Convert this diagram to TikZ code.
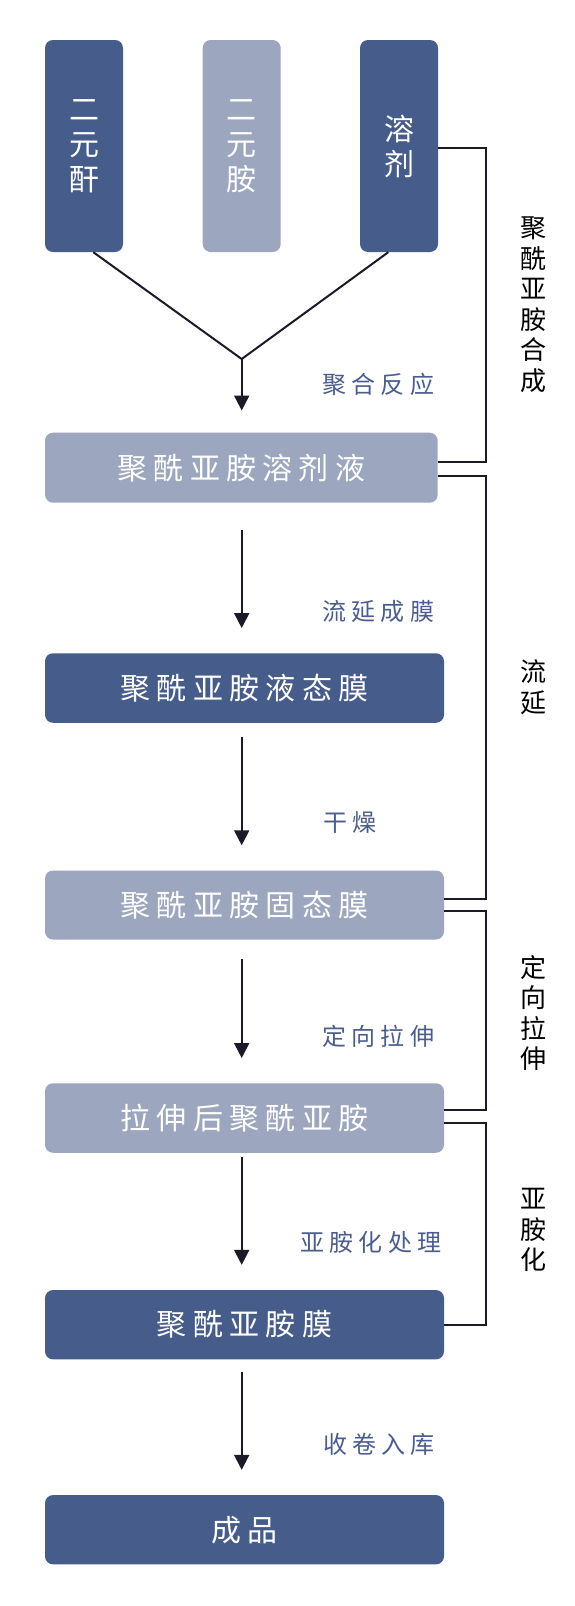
\documentclass[tikz,border=0pt]{standalone}
\usepackage{fontspec}
\newfontfamily\cjkbox[LetterSpace=21]{Noto Sans CJK SC}
\newfontfamily\cjklab[LetterSpace=21]{Noto Sans CJK SC}
\newfontfamily\cjkplain{Noto Sans CJK SC}
\usetikzlibrary{arrows.meta}
\definecolor{darkbox}{HTML}{465C8B}
\definecolor{lightbox}{HTML}{9CA6BE}
\definecolor{labelblue}{HTML}{4A5D8E}
\definecolor{linecol}{HTML}{1A1A28}
\tikzset{
  box/.style={rounded corners=8pt, inner sep=0pt, text=white, font=\cjkbox\fontsize{30}{36}\selectfont},
  darkb/.style={box, fill=darkbox},
  lightb/.style={box, fill=lightbox},
  vbox/.style={rounded corners=8pt, inner sep=0pt, text=white, align=center,
     minimum width=78pt, minimum height=212pt, font=\cjkplain\fontsize{30}{35}\selectfont},
  lab/.style={anchor=west, inner sep=0pt, text=labelblue, font=\cjklab\fontsize{24}{28}\selectfont},
  side/.style={inner sep=0pt, align=center, text=black, font=\cjkplain\fontsize{26}{30.5}\selectfont},
  conn/.style={draw=linecol, line width=2pt},
  arr/.style={conn, -{Triangle[width=15pt,length=15pt]}}
}
\begin{document}
\begin{tikzpicture}[x=1pt,y=-1pt]
\fill[white] (0,0) rectangle (574,1606);
\path[use as bounding box] (0,0) rectangle (574,1606);

% top boxes
\node[vbox, fill=darkbox] (b1) at (84,146) {二\\元\\酐};
\node[vbox, fill=lightbox] (b2) at (241.7,146) {二\\元\\胺};
\node[vbox, fill=darkbox] (b3) at (399,146) {溶\\剂};

% main boxes
\node[lightb, minimum width=392.7pt, minimum height=70pt] (s1) at (241.35,467.7) {聚酰亚胺溶剂液};
\node[darkb, minimum width=399pt, minimum height=69.5pt] (s2) at (244.5,688) {聚酰亚胺液态膜};
\node[lightb, minimum width=399pt, minimum height=69pt] (s3) at (244.5,905) {聚酰亚胺固态膜};
\node[lightb, minimum width=399pt, minimum height=69.5pt] (s4) at (244.5,1118) {拉伸后聚酰亚胺};
\node[darkb, minimum width=399pt, minimum height=69.3pt] (s5) at (244.5,1324.7) {聚酰亚胺膜};
\node[darkb, minimum width=399pt, minimum height=69.3pt] (s6) at (244.5,1529.7) {成品};

% V junction
\coordinate (apex) at (241.7,359);
\draw[conn] ([xshift=9.3pt]b1.south) -- (apex) -- ([xshift=-10.7pt]b3.south);
\draw[arr, shorten >=22pt] (apex) -- (s1.north -| apex);

% vertical arrows
\draw[arr, shorten <=26.8pt, shorten >=25pt] (s1.south -| apex) -- (s2.north -| apex);
\draw[arr, shorten <=14pt, shorten >=25pt] (s2.south -| apex) -- (s3.north -| apex);
\draw[arr, shorten <=19.5pt, shorten >=25pt] (s3.south -| apex) -- (s4.north -| apex);
\draw[arr, shorten <=4pt, shorten >=25pt] (s4.south -| apex) -- (s5.north -| apex);
\draw[arr, shorten <=12pt, shorten >=25pt] (s5.south -| apex) -- (s6.north -| apex);

% arrow labels
\node[lab] (l1) at (322.7,384) {聚合反应};
\node[lab] (l2) at (322.7,611.7) {流延成膜};
\node[lab] (l3) at (323.3,822.7) {干燥};
\node[lab] (l4) at (322.7,1036) {定向拉伸};
\node[lab] (l5) at (300.7,1242.7) {亚胺化处理};
\node[lab] (l6) at (323,1444) {收卷入库};

% brackets
\draw[conn] ([yshift=-2pt]b3.east) -- ++(48,0) |- ([yshift=5.7pt]s1.east);
\draw[conn] ([yshift=-8pt]s1.east) -- ++(48,0) |- ([yshift=6.5pt]s3.east);
\draw[conn] ([yshift=-6pt]s3.east) -- ++(41.7,0) |- ([yshift=8pt]s4.east);
\draw[conn] ([yshift=-5.3pt]s4.east) -- ++(41.7,0) |- (s5.east);

% side labels
\node[side] (r1) at (533.5,305) {聚\\酰\\亚\\胺\\合\\成};
\node[side] (r2) at (533.5,687) {流\\延};
\node[side] (r3) at (533.5,1013) {定\\向\\拉\\伸};
\node[side] (r4) at (533.5,1230) {亚\\胺\\化};
\end{tikzpicture}
\end{document}
